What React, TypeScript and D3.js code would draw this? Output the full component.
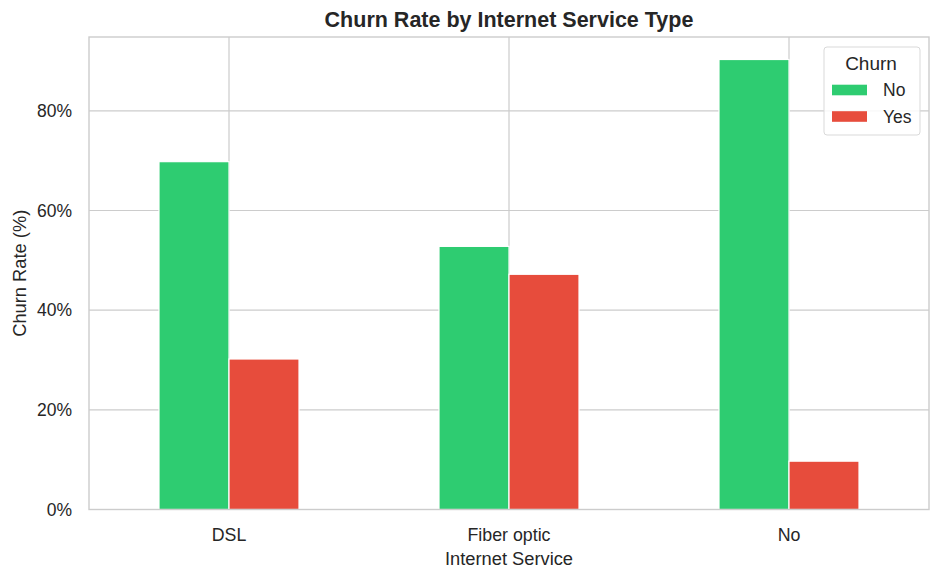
import React, { useEffect, useRef } from "react";
import * as d3 from "d3";

const categories = ["DSL", "Fiber optic", "No"];
const seriesNames = ["No", "Yes"];
const churnNo = [69.8, 52.8, 90.3];
const churnYes = [30.2, 47.2, 9.7];
const yTicks = [0, 20, 40, 60, 80];
const colors = ["#2ecc71", "#e74c3c"];

const W = 940;
const H = 580;
const M = { left: 89, right: 929, top: 37, bottom: 509.5 };
const FONT = "'Liberation Sans', Arial, sans-serif";

export default function App() {
  const ref = useRef<SVGSVGElement | null>(null);

  useEffect(() => {
    const svg = d3.select(ref.current);
    svg.selectAll("*").remove();

    const series = [churnNo, churnYes];
    const maxV = d3.max(series.flat()) as number;

    const x = d3
      .scaleLinear()
      .domain([-0.5, categories.length - 0.5])
      .range([M.left, M.right]);
    const y = d3
      .scaleLinear()
      .domain([0, maxV * 1.05])
      .range([M.bottom, M.top]);

    const unit = x(1) - x(0);
    const barW = (unit * 0.5) / seriesNames.length;

    svg.append("rect").attr("x", 0).attr("y", 0).attr("width", W).attr("height", H).attr("fill", "#fff");

    const grid = svg.append("g").attr("stroke", "#cccccc").attr("stroke-width", 1.2);
    yTicks.forEach((t) => {
      grid.append("line").attr("x1", M.left).attr("x2", M.right).attr("y1", y(t)).attr("y2", y(t));
    });
    categories.forEach((_, i) => {
      grid.append("line").attr("x1", x(i)).attr("x2", x(i)).attr("y1", M.top).attr("y2", M.bottom);
    });

    series.forEach((vals, s) => {
      svg
        .append("g")
        .selectAll("rect")
        .data(vals)
        .join("rect")
        .attr("x", (_, i) => x(i) - barW + s * barW)
        .attr("y", (d) => y(d))
        .attr("width", barW)
        .attr("height", (d) => y(0) - y(d))
        .attr("fill", colors[s])
        .attr("stroke", "#ffffff")
        .attr("stroke-width", 1.2);
    });

    svg
      .append("rect")
      .attr("x", M.left)
      .attr("y", M.top)
      .attr("width", M.right - M.left)
      .attr("height", M.bottom - M.top)
      .attr("fill", "none")
      .attr("stroke", "#cccccc")
      .attr("stroke-width", 1.4);

    const yAxis = svg.append("g");
    yTicks.forEach((t) => {
      yAxis
        .append("text")
        .attr("x", 72)
        .attr("y", y(t))
        .attr("dy", "0.35em")
        .attr("text-anchor", "end")
        .attr("font-family", FONT)
        .attr("font-size", 17.5)
        .attr("fill", "#262626")
        .text(`${t}%`);
    });

    categories.forEach((c, i) => {
      svg
        .append("text")
        .attr("x", x(i))
        .attr("y", 541)
        .attr("text-anchor", "middle")
        .attr("font-family", FONT)
        .attr("font-size", 17.8)
        .attr("fill", "#262626")
        .text(c);
    });

    svg
      .append("text")
      .attr("x", (M.left + M.right) / 2)
      .attr("y", 564.5)
      .attr("text-anchor", "middle")
      .attr("font-family", FONT)
      .attr("font-size", 18.3)
      .attr("fill", "#262626")
      .text("Internet Service");

    svg
      .append("text")
      .attr("transform", `translate(25.5, ${(M.top + M.bottom) / 2}) rotate(-90)`)
      .attr("text-anchor", "middle")
      .attr("font-family", FONT)
      .attr("font-size", 18.3)
      .attr("fill", "#262626")
      .text("Churn Rate (%)");

    svg
      .append("text")
      .attr("x", (M.left + M.right) / 2)
      .attr("y", 27)
      .attr("text-anchor", "middle")
      .attr("font-family", FONT)
      .attr("font-size", 21.5)
      .attr("font-weight", "bold")
      .attr("fill", "#262626")
      .text("Churn Rate by Internet Service Type");

    const lg = svg.append("g");
    lg.append("rect")
      .attr("x", 824)
      .attr("y", 47)
      .attr("width", 96)
      .attr("height", 88)
      .attr("rx", 3)
      .attr("fill", "#ffffff")
      .attr("fill-opacity", 0.85)
      .attr("stroke", "#d9d9d9")
      .attr("stroke-width", 1);
    lg.append("text")
      .attr("x", 871)
      .attr("y", 70)
      .attr("text-anchor", "middle")
      .attr("font-family", FONT)
      .attr("font-size", 19)
      .attr("fill", "#262626")
      .text("Churn");
    seriesNames.forEach((n, s) => {
      const cy = 90 + s * 26.5;
      lg.append("rect")
        .attr("x", 832)
        .attr("y", cy - 5.3)
        .attr("width", 35)
        .attr("height", 10.6)
        .attr("fill", colors[s]);
      lg.append("text")
        .attr("x", 883)
        .attr("y", cy)
        .attr("dy", "0.35em")
        .attr("font-family", FONT)
        .attr("font-size", 17.5)
        .attr("fill", "#262626")
        .text(n);
    });
  }, []);

  return (
    <svg
      ref={ref}
      width={W}
      height={H}
      style={{ position: "absolute", left: 0, top: 0, display: "block" }}
    />
  );
}
